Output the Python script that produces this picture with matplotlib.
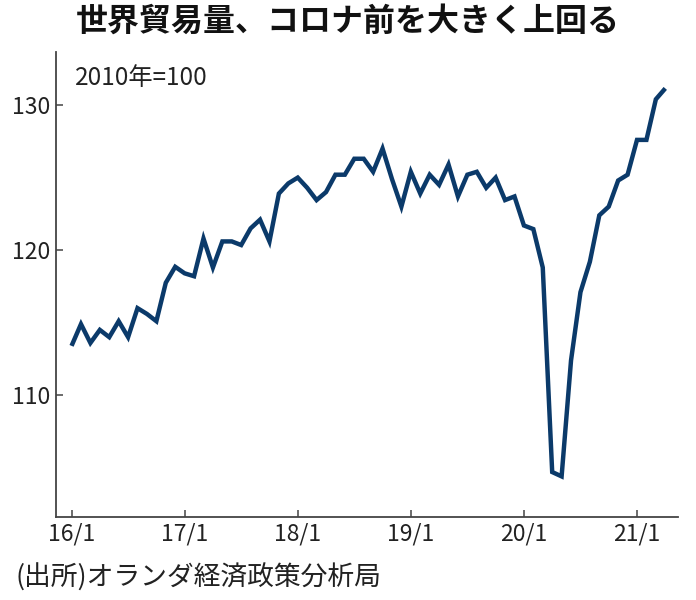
import matplotlib
matplotlib.use("Agg")
import matplotlib.pyplot as plt
import numpy as np

plt.rcParams['font.family'] = ['Noto Sans CJK JP', 'DejaVu Sans']

title = "世界貿易量、コロナ前を大きく上回る"
unit_label = "2010年=100"
source = "(出所)オランダ経済政策分析局"

# Monthly index, Jan 2016 .. Apr 2021
values = [
    113.4, 114.9, 113.6, 114.5, 114.0, 115.1, 114.0, 116.0, 115.6, 115.1, 117.75, 118.85,
    118.4, 118.2, 120.8, 118.8, 120.6, 120.6, 120.35, 121.5, 122.1, 120.6, 123.9, 124.6,
    125.0, 124.3, 123.45, 124.0, 125.2, 125.2, 126.3, 126.3, 125.4, 127.0, 124.9, 123.0,
    125.4, 123.9, 125.2, 124.5, 125.9, 123.7, 125.2, 125.4, 124.3, 125.0, 123.45, 123.7,
    121.7, 121.45, 118.8, 104.7, 104.4, 112.4, 117.1, 119.2, 122.4, 123.0, 124.8, 125.2,
    127.6, 127.6, 130.4, 131.15,
]
xtick_pos = [0, 12, 24, 36, 48, 60]
xtick_labels = ["16/1", "17/1", "18/1", "19/1", "20/1", "21/1"]
ytick_vals = [110, 120, 130]

fig = plt.figure(figsize=(6.96, 6.0), dpi=100)
ax = fig.add_axes([56/696, 83/600, (678-56)/696, (517-52)/600])

x = np.arange(len(values))
ax.plot(x, values, color="#0b3a6a", lw=3.2, solid_joinstyle="miter", solid_capstyle="butt")

ax.set_xlim(-1.65, 64.35)
ax.set_ylim(101.6, 133.66)

for s in ["top", "right"]:
    ax.spines[s].set_visible(False)
for s in ["left", "bottom"]:
    ax.spines[s].set_color("#444444")
    ax.spines[s].set_linewidth(1.3)

ax.set_xticks(xtick_pos)
ax.set_xticklabels(xtick_labels)
ax.set_yticks(ytick_vals)
ax.set_yticklabels([str(v) for v in ytick_vals])
ax.tick_params(axis="both", direction="in", length=5, width=1.1, color="#444444",
               labelsize=16.5, labelcolor="#222222")
ax.tick_params(axis="y", pad=4)
ax.tick_params(axis="x", pad=4)

fig.text(75/696, 1 - 78/600, unit_label, fontsize=17.5,
         color="#222222", ha="left", va="center")

fig.text(0.5, 1 - 22/600, title, ha="center", va="center", fontsize=23,
         fontweight="bold", color="#111111")
fig.text(15/696, 1 - 578/600, source, ha="left", va="center", fontsize=19.3,
         color="#222222")

fig.savefig("out.png", dpi=100, facecolor="white")
